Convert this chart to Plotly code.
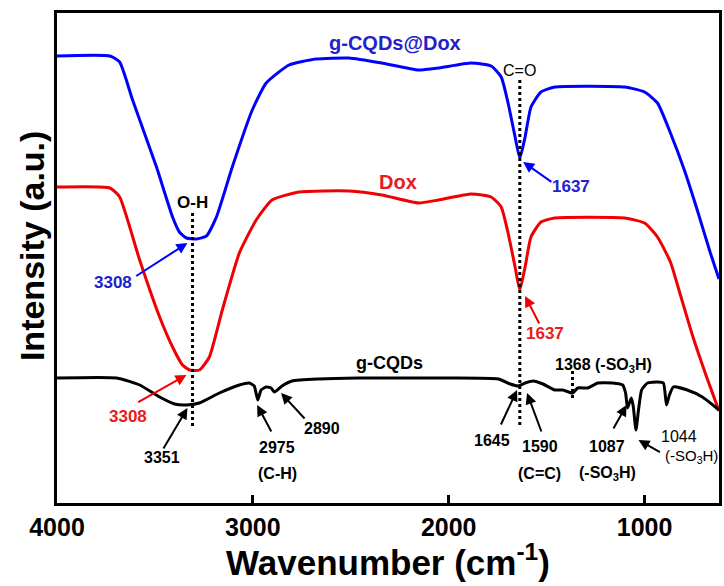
import plotly.graph_objects as go

# ---- FTIR spectra (wavenumber in cm-1, transmittance in arbitrary units) ----
wn_cqd_dox = [4000, 3730, 3680, 3614, 3492, 3410, 3375, 3339, 3288, 3237, 3186, 3105, 3003,
              2932, 2815, 2678, 2510, 2342, 2154, 2053, 1885, 1783, 1732, 1697, 1661, 1637, 1610,
              1580, 1529, 1458, 1102, 1000, 934, 868, 797, 731, 664, 620]
it_cqd_dox = [447, 447, 441, 403, 336, 286, 271, 265, 264, 267, 286, 336, 393,
              420, 438, 444, 445, 440, 433, 435, 440, 437, 426, 400, 366, 345, 366,
              396, 411, 416, 416, 411, 400, 370, 333, 293, 250, 224]

wn_dox = [4000, 3730, 3680, 3578, 3476, 3410, 3359, 3324, 3273, 3222, 3156, 3069, 2983, 2902,
          2764, 2510, 2342, 2154, 2053, 1885, 1783, 1732, 1697, 1661, 1637, 1610, 1580, 1529,
          1458, 1102, 1000, 934, 868, 817, 756, 685, 620]
it_dox = [316, 315, 306, 243, 186, 156, 138, 133, 133, 146, 193, 250, 283, 303,
          311, 312, 308, 300, 303, 309, 306, 296, 270, 236, 213, 236, 266, 281,
          285, 285, 280, 266, 241, 208, 168, 127, 92]

wn_cqd = [4000, 3695, 3578, 3476, 3400, 3339, 3273, 3171, 3069, 3019, 2993, 2975, 2958, 2932,
          2907, 2890, 2851, 2800, 2663, 2459, 2002, 1747, 1686, 1645, 1610, 1569, 1519, 1458,
          1417, 1368, 1341, 1290, 1239, 1163, 1112, 1097, 1087, 1068, 1058, 1044, 1031, 1015,
          985, 934, 904, 888, 873, 853, 782, 705, 620]
it_cqd = [125, 125, 118, 106, 99, 98, 100, 110, 118, 120, 117, 103, 113, 116,
          115, 111, 117, 122, 124, 125, 125, 124, 119, 117, 120, 122, 119, 113,
          113, 110, 115, 115, 120, 120, 118, 110, 95, 105, 97, 73, 93, 113,
          120, 121, 120, 98, 108, 116, 113, 106, 93]

# dotted guide lines: position and vertical extent
guide_wn = [3308, 1637, 1368]
guide_top = [290, 423, 132]
guide_bottom = [76, 75, 102]

x_ticks = [4000, 3000, 2000, 1000]

BLUE, RED, BLACK = "#0000ff", "#f00000", "#000000"
BLUE_TXT, RED_TXT = "#2222cc", "#e81c1c"
FONT = "Liberation Sans, Arial, sans-serif"

fig = go.Figure()
for wn, it, col in [(wn_cqd_dox, it_cqd_dox, BLUE), (wn_dox, it_dox, RED), (wn_cqd, it_cqd, BLACK)]:
    fig.add_trace(go.Scatter(x=wn, y=it, mode="lines",
                             line=dict(color=col, width=3, shape="spline", smoothing=0.5),
                             showlegend=False, hoverinfo="skip"))

for g, t, b in zip(guide_wn, guide_top, guide_bottom):
    fig.add_trace(go.Scatter(x=[g, g], y=[t, b], mode="lines",
                             line=dict(color=BLACK, width=3, dash="dot"),
                             showlegend=False, hoverinfo="skip"))


def label(x, y, text, color=BLACK, size=16, bold=True):
    t = f"<b>{text}</b>" if bold else text
    fig.add_annotation(x=x, y=y, xref="x", yref="y", text=t, showarrow=False,
                       font=dict(family=FONT, size=size, color=color),
                       xanchor="center", yanchor="middle")


def arrow(x0, y0, x1, y1, color=BLACK):
    fig.add_annotation(x=x1, y=y1, ax=x0, ay=y0, xref="x", yref="y", axref="x", ayref="y",
                       text="", showarrow=True, arrowhead=2, arrowsize=1.1, arrowwidth=2,
                       arrowcolor=color, standoff=0, startstandoff=0)


# series names
label(2276, 460, "g-CQDs@Dox", BLUE_TXT, 20)
label(2261, 321, "Dox", RED_TXT, 20)
label(2302, 140, "g-CQDs", BLACK, 18)

# band assignments
label(3308, 301, "O-H", BLACK, 17)
label(1637, 433, "C=O", BLACK, 16, bold=False)

label(3715, 221, "3308", BLUE_TXT, 17)
arrow(3603, 226, 3334, 260, BLUE)
label(3639, 87, "3308", RED_TXT, 17)
arrow(3593, 100, 3339, 128, RED)

label(1376, 317, "1637", BLUE_TXT, 17)
arrow(1468, 320, 1620, 341, BLUE)
label(1508, 170, "1637", RED_TXT, 17)
arrow(1534, 178, 1610, 207, RED)

label(3466, 46, "3351")
arrow(3461, 53, 3334, 95)
label(2876, 56, "2975")
label(2876, 30, "(C-H)")
arrow(2902, 70, 2978, 98)
label(2647, 75, "2890")
arrow(2729, 83, 2856, 110)

label(1209, 138, "1368 (-SO<sub>3</sub>H)")
label(1778, 63, "1645")
arrow(1737, 77, 1651, 113)
label(1534, 57, "1590")
label(1534, 30, "(C=C)")
arrow(1524, 70, 1600, 110)
label(1193, 57, "1087")
label(1188, 30, "(-SO<sub>3</sub>H)")
arrow(1163, 73, 1092, 98)
label(822, 67, "1044", bold=False)
label(761, 47, "(-SO<sub>3</sub>H)", bold=False, size=15)
arrow(914, 50, 1031, 63)

# axis titles
fig.add_annotation(xref="paper", yref="paper", x=-0.038, y=0.524, textangle=-90,
                   xanchor="center", yanchor="middle",
                   text="<b>Intensity (a.u.)</b>", showarrow=False,
                   font=dict(family=FONT, size=34, color=BLACK))
fig.add_annotation(xref="paper", yref="paper", x=0.5, y=-0.117,
                   xanchor="center", yanchor="middle",
                   text="<b>Wavenumber (cm<sup>-1</sup>)</b>", showarrow=False,
                   font=dict(family=FONT, size=35, color=BLACK))

fig.update_xaxes(range=[4000, 620], tickvals=x_ticks, ticktext=[str(v) for v in x_ticks],
                 ticks="inside", ticklen=8, tickwidth=3, tickcolor=BLACK,
                 showline=True, linewidth=3, linecolor=BLACK, mirror=True,
                 showgrid=False, zeroline=False,
                 tickfont=dict(family=FONT, size=25, color=BLACK, weight="bold"))
fig.update_yaxes(range=[0, 490], showticklabels=False, ticks="",
                 showline=True, linewidth=3, linecolor=BLACK, mirror=True,
                 showgrid=False, zeroline=False)

fig.update_layout(width=724, height=586, margin=dict(l=57, r=2, t=13, b=83),
                  paper_bgcolor="white", plot_bgcolor="white")

fig.write_html("out.html")
